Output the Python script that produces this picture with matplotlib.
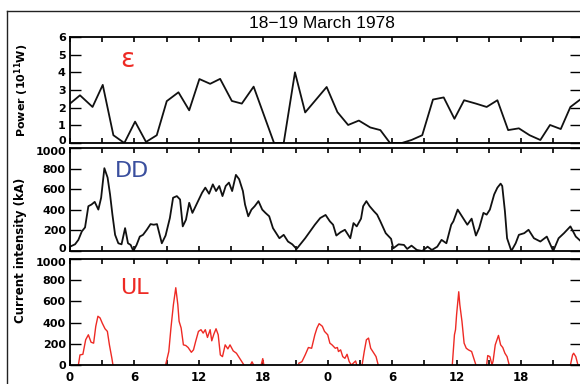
import numpy as np
import matplotlib.pyplot as plt
import matplotlib.transforms as mtransforms
from matplotlib.lines import Line2D

# epsilon (power, 10^11 W)
eps_t = [0, 0.93, 2.1, 3.05, 4.04, 5.06, 6.06, 7.08, 8.08, 9.01, 10.1, 11.1, 12.05, 13.05,
         13.98, 15.07, 16.0, 17.1, 19.0, 19.9, 20.95, 21.9, 23.9, 24.9, 25.9, 26.9, 27.96,
         28.9, 29.8, 30.9, 31.8, 32.8, 33.8, 34.8, 35.8, 36.7, 37.8, 38.8, 39.8, 40.8,
         41.8, 42.8, 43.8, 44.7, 45.7, 46.6, 47.6]
eps_v = [2.23, 2.7, 2.04, 3.29, 0.44, 0.0, 1.21, 0.06, 0.44, 2.37, 2.87, 1.85, 3.62, 3.35,
         3.63, 2.38, 2.23, 3.19, 0.0, 0.0, 4.0, 1.73, 3.17, 1.75, 1.02, 1.27, 0.88,
         0.73, 0.0, 0.0, 0.17, 0.44, 2.46, 2.58, 1.37, 2.42, 2.23, 2.04, 2.42, 0.73,
         0.83, 0.44, 0.17, 1.02, 0.79, 2.04, 2.5]

# DD current (kA)
dd_t = [0, 0.47, 0.78, 1.1, 1.4, 1.71, 2.0, 2.3, 2.64, 2.9, 3.2, 3.5, 3.73, 3.95, 4.2, 4.5,
        4.8, 5.13, 5.4, 5.65, 5.9, 6.2, 6.5, 6.8, 7.15, 7.5, 7.8, 8.1, 8.55, 8.9, 9.3, 9.6,
        9.95, 10.25, 10.5, 10.8, 11.1, 11.4, 11.7, 12.0, 12.3, 12.6, 12.95, 13.3, 13.6,
        13.9, 14.2, 14.5, 14.8, 15.1, 15.45, 15.75, 16.1, 16.3, 16.6, 16.9, 17.2, 17.55,
        17.9, 18.2, 18.55, 18.9, 19.2, 19.5, 19.9, 20.3, 20.7, 21.1, 21.4, 21.9, 22.4,
        22.8, 23.3, 23.8, 24.2, 24.5, 24.8, 25.2, 25.6, 26.1, 26.4, 26.7, 27.1, 27.3,
        27.6, 27.9, 28.3, 28.6, 28.9, 29.4, 29.9, 30.1, 30.6, 31.1, 31.4, 31.8, 32.3,
        32.8, 33.3, 33.7, 34.2, 34.6, 35.05, 35.5, 35.7, 36.1, 36.4, 36.7, 37.0, 37.4,
        37.8, 38.1, 38.5, 38.8, 39.1, 39.5, 39.8, 40.1, 40.25, 40.5, 40.7, 41.1, 41.5,
        41.8, 42.3, 42.7, 43.2, 43.8, 44.4, 44.75, 45.0, 45.5, 46.0, 46.6, 47.1, 47.6]
dd_v = [42, 65, 108, 190, 229, 435, 451, 477, 402, 517, 804, 713, 549, 353, 157, 75,
        65, 222, 75, 59, 0, 59, 140, 157, 206, 261, 255, 261, 75, 150, 320, 517,
        533, 500, 239, 304, 468, 370, 435, 500, 566, 615, 556, 647, 582,
        631, 533, 631, 664, 582, 739, 697, 582, 451, 337, 402, 435, 484,
        402, 370, 337, 222, 173, 124, 157, 92, 65, 20, 59, 124, 196,
        255, 320, 350, 288, 255, 150, 183, 206, 124, 271, 239, 314, 435,
        484, 435, 386, 353, 288, 173, 118, 26, 65, 59, 20, 52, 10,
        0, 42, 10, 42, 108, 75, 255, 288, 402, 353, 304, 255, 314,
        150, 222, 370, 353, 402, 549, 615, 654, 631, 386, 124, 0, 75,
        157, 173, 206, 124, 92, 140, 59, 0, 124, 173, 239, 140, 92]

# UL current (kA), nan = no data drawn
ul_t = [0.78, 0.93, 1.2, 1.46, 1.71, 1.96, 2.2, 2.4, 2.6, 2.8, 3.0, 3.26, 3.48, 3.67, 3.9, 4.0, 4.1,
        8.9, 9.2, 9.4, 9.63, 9.85, 10.04, 10.16, 10.35, 10.56, 10.78, 11.0, 11.3, 11.5, 11.7,
        11.96, 12.2, 12.4, 12.6, 12.8, 13.05, 13.2, 13.4, 13.6, 13.8, 14.0, 14.2, 14.45, 14.7,
        14.9, 15.2, 15.5, 15.8, 16.2, 16.3,
        16.8, 16.95, 17.1, 17.2,
        17.8, 17.95, 18.05, 18.1,
        21.3, 21.6, 21.9, 22.2, 22.5, 22.8, 23.0, 23.2, 23.5, 23.7, 24.0, 24.2, 24.4, 24.7,
        24.9, 25.0, 25.2, 25.4, 25.6, 25.8, 26.0, 26.2, 26.6, 26.7, 26.8,
        27.2, 27.4, 27.6, 27.8, 28.0, 28.3, 28.5, 28.7, 28.8,
        35.6, 35.8, 35.9, 36.0, 36.2, 36.3, 36.5, 36.7, 36.9, 37.1, 37.4, 37.6, 37.8, 37.9,
        38.8, 38.9, 39.1, 39.3, 39.4, 39.6, 39.9, 40.1, 40.3, 40.5, 40.7, 40.9, 41.0,
        46.6, 46.8, 46.9, 47.1, 47.3]
ul_v = [0, 95, 101, 238, 285, 215, 206, 365, 460, 444, 396, 342, 317, 190, 63, 0, np.nan,
        0, 127, 349, 570, 729, 570, 412, 349, 190, 184, 165, 120, 143, 222,
        317, 333, 301, 333, 260, 333, 228, 292, 342, 285, 95, 79, 190, 152,
        190, 133, 111, 63, 0, np.nan,
        0, 30, 0, np.nan,
        0, 60, 0, np.nan,
        16, 32, 95, 165, 158, 285, 349, 390, 365, 317, 285, 206, 190, 158,
        165, 127, 143, 79, 63, 101, 32, 0, 38, 0, np.nan,
        0, 127, 238, 254, 158, 111, 79, 0, np.nan,
        0, 285, 333, 475, 691, 570, 412, 206, 158, 143, 127, 63, 0, np.nan,
        0, 89, 79, 0, 38, 190, 279, 190, 165, 111, 79, 0, np.nan,
        0, 95, 111, 79, 0]

xlabels = ["0", "6", "12", "18", "0", "6", "12", "18"]

W, H = 580, 384
fig = plt.figure(figsize=(W / 100, H / 100), dpi=100)


def box(top, bot):
    return [70 / W, 1 - bot / H, 1 - 70 / W + 0.002, (bot - top) / H]


ax1 = fig.add_axes(box(37, 143))
ax2 = fig.add_axes(box(148, 251))
ax3 = fig.add_axes(box(259, 365))

tickfont = dict(family="DejaVu Sans", weight="bold", size=8)

ax1.plot(eps_t, eps_v, color="#111111", lw=1.3)
ax2.plot(dd_t, dd_v, color="#111111", lw=1.3)
ax3.plot(ul_t, ul_v, color="#ee2a24", lw=1.0)

ax1.set_ylim(0, 6)
ax1.set_yticks(range(0, 7))
for ax in (ax2, ax3):
    ax.set_ylim(0, 1000)
    ax.set_yticks(range(0, 1001, 200))

for ax in (ax1, ax2, ax3):
    ax.set_xlim(0, 47.6)
    ax.set_xticks(np.arange(0, 48, 3))
    ax.tick_params(axis="x", direction="in", length=3.5, width=1.2, top=True, bottom=True, pad=4)
    ax.tick_params(axis="y", direction="in", length=8, width=1.0, left=True, right=True, pad=3)
    for s in ax.spines.values():
        s.set_linewidth(1.3)
    ax.set_yticklabels([str(int(v)) for v in ax.get_yticks()], **tickfont)
    ax.set_xticklabels([])

ax3.set_xticklabels([xlabels[i // 2] if i % 2 == 0 else "" for i in range(16)],
                    family="DejaVu Sans", weight="bold", size=8.5)

# nudge neighbouring 0 / 1000 labels apart so they do not collide
up = mtransforms.ScaledTranslation(0, 2.5 / 72, fig.dpi_scale_trans)
down = mtransforms.ScaledTranslation(0, -2.5 / 72, fig.dpi_scale_trans)
for ax in (ax1, ax2):
    lab = ax.get_yticklabels()[0]
    lab.set_transform(lab.get_transform() + up)
for ax in (ax2, ax3):
    lab = ax.get_yticklabels()[-1]
    lab.set_transform(lab.get_transform() + down)

fig.text(0.5 * (70 + 580) / W - 0.005, 1 - 23 / H, "18\u221219 March 1978", ha="center", va="center",
         family="Liberation Sans", fontsize=12.5)

fig.text(22 / W, 1 - 90 / H, "Power (10$^{\\bf 11}$W)", rotation=90, ha="center", va="center",
         family="DejaVu Sans", weight="bold", fontsize=8)
fig.text(21 / W, 1 - 250 / H, "Current intensity (kA)", rotation=90, ha="center", va="center",
         family="DejaVu Sans", weight="bold", fontsize=8.5)

fig.text(127 / W, 1 - 60 / H, "\u03b5", color="#ee2a24", ha="center", va="center",
         family="DejaVu Sans", fontsize=19)
fig.text(132 / W, 1 - 171 / H, "DD", color="#3a4f9e", ha="center", va="center",
         family="DejaVu Sans", fontsize=16)
fig.text(134 / W, 1 - 288 / H, "UL", color="#ee2a24", ha="center", va="center",
         family="DejaVu Sans", fontsize=16)

# outer frame
fig.add_artist(Line2D([7 / W, 7 / W], [0, 1 - 11 / H], color="#222222", lw=1.0))
fig.add_artist(Line2D([7 / W, 1], [1 - 11 / H, 1 - 11 / H], color="#222222", lw=1.0))

fig.savefig("out.png", dpi=100)
